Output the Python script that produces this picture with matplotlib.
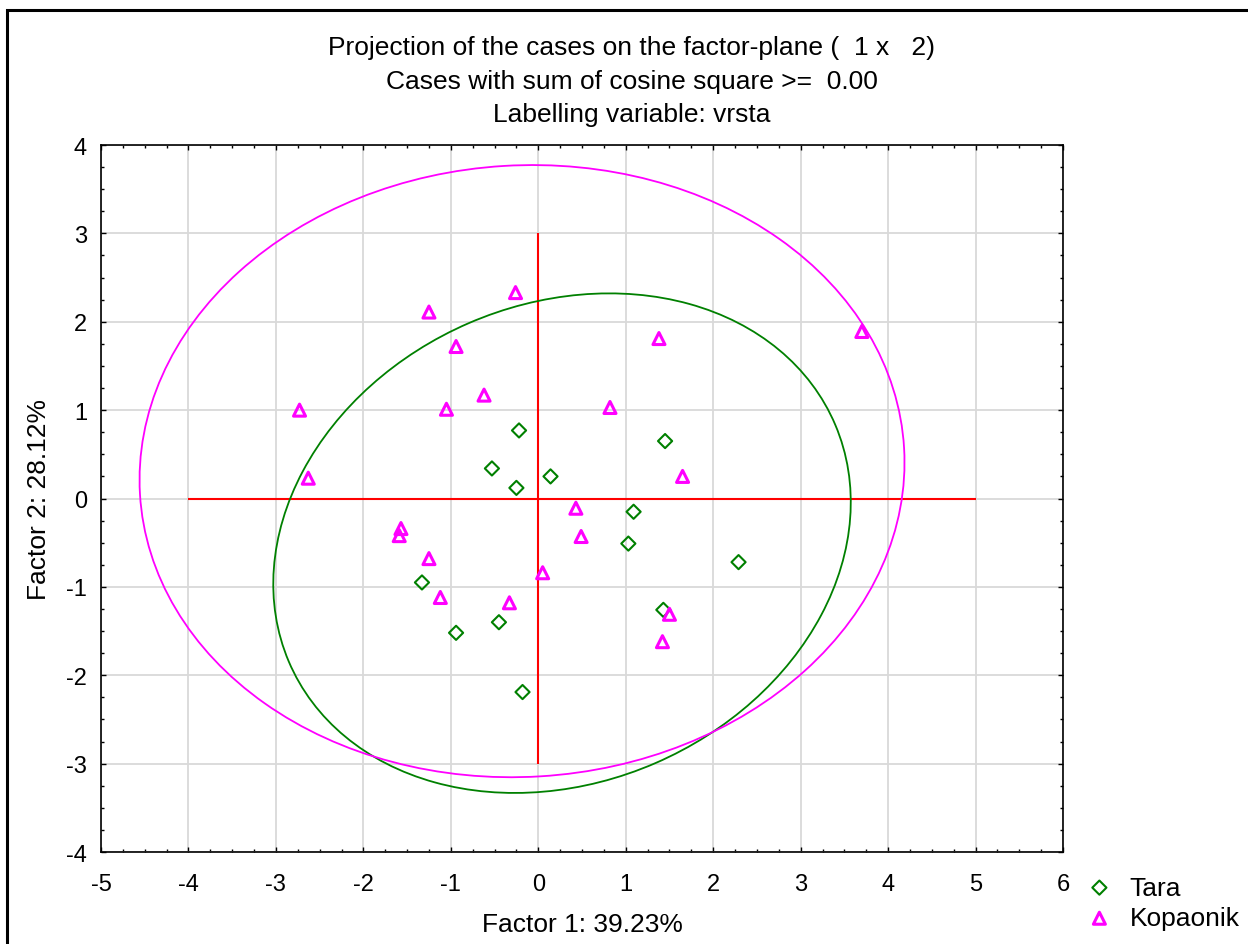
import numpy as np
import matplotlib
matplotlib.use("Agg")
import matplotlib.pyplot as plt
from matplotlib.patches import Ellipse, Rectangle
from matplotlib.ticker import MultipleLocator

plt.rcParams["font.family"] = ["Liberation Sans", "DejaVu Sans"]
plt.rcParams["axes.unicode_minus"] = False

# Factor scores
tara_f1 = [-0.22, -0.53, -0.25, 0.14, 1.45, 1.09, 1.03, 2.29, 1.43, -1.33, -0.94, -0.45, -0.18]
tara_f2 = [0.77, 0.34, 0.12, 0.25, 0.65, -0.15, -0.51, -0.72, -1.26, -0.95, -1.52, -1.40, -2.19]

kop_f1 = [-0.26, -1.25, -0.94, -0.62, -1.05, -2.73, -2.63, 1.38, 0.82, 1.65, 3.70,
          0.43, 0.49, 0.05, -1.57, -1.59, -1.25, -1.12, -0.33, 1.50, 1.42]
kop_f2 = [2.33, 2.11, 1.72, 1.17, 1.01, 1.00, 0.23, 1.81, 1.03, 0.25, 1.89,
          -0.11, -0.43, -0.84, -0.34, -0.42, -0.68, -1.12, -1.18, -1.31, -1.62]

groups = ["Tara", "Kopaonik"]
cross_h = [-4, 5]   # horizontal reference line span at Factor 2 = 0
cross_v = [-3, 3]   # vertical reference line span at Factor 1 = 0

title_lines = [
    "Projection of the cases on the factor-plane (  1 x   2)",
    "Cases with sum of cosine square >=  0.00",
    "Labelling variable: vrsta",
]


def prediction_ellipse(x, y, color, p=0.95):
    # 95% prediction ellipse for a bivariate normal sample
    x = np.asarray(x)
    y = np.asarray(y)
    n = len(x)
    m = n - 2
    f_crit = m / 2 * ((1 - p) ** (-2 / m) - 1)  # F(2, m) quantile
    k = 2 * (n - 1) * (n + 1) / (n * m) * f_crit
    vals, vecs = np.linalg.eigh(np.cov(x, y) * k)
    angle = np.degrees(np.arctan2(vecs[1, 1], vecs[0, 1]))
    return Ellipse((x.mean(), y.mean()), 2 * np.sqrt(vals[1]), 2 * np.sqrt(vals[0]),
                   angle=angle, fill=False, edgecolor=color, lw=1.3, zorder=3)


fig = plt.figure(figsize=(12.48, 9.45), dpi=100)
ax = fig.add_axes([101 / 1248, 1 - 853 / 945, 962 / 1248, 707 / 945])

ax.set_xlim(-5, 6)
ax.set_ylim(-4, 4)
ax.xaxis.set_major_locator(MultipleLocator(1))
ax.yaxis.set_major_locator(MultipleLocator(1))
ax.xaxis.set_minor_locator(MultipleLocator(0.25))
ax.yaxis.set_minor_locator(MultipleLocator(0.25))
ax.grid(True, which="major", color="#d9d9d9", lw=1.3, zorder=0)
ax.set_axisbelow(True)
ax.tick_params(which="both", direction="in", top=True, right=True, width=1)
ax.tick_params(which="major", length=3.5, labelsize=17)
ax.tick_params(axis="x", which="major", pad=15)
ax.tick_params(axis="y", which="major", pad=10)
ax.tick_params(which="minor", length=2.5)
for s in ax.spines.values():
    s.set_linewidth(1.2)

ax.hlines(0, cross_h[0], cross_h[1], color="red", lw=1.5, zorder=2)
ax.vlines(0, cross_v[0], cross_v[1], color="red", lw=1.5, zorder=2)

ax.add_patch(prediction_ellipse(tara_f1, tara_f2, "green"))
ax.add_patch(prediction_ellipse(kop_f1, kop_f2, "magenta"))

ax.scatter(tara_f1, tara_f2, marker="D", s=52, facecolors="none", edgecolors="green",
           linewidths=1.5, zorder=4, label=groups[0])
ax.scatter(kop_f1, kop_f2, marker="^", s=75, facecolors="none", edgecolors="magenta",
           linewidths=2.2, zorder=4, label=groups[1])

ax.set_xlabel("Factor 1: 39.23%", fontsize=19, labelpad=12)
ax.set_ylabel("Factor 2: 28.12%", fontsize=19, labelpad=11)

fig.text(632 / 1248, 1 - 36 / 945, "\n".join(title_lines), ha="center", va="top",
         fontsize=19, linespacing=1.5, transform=fig.transFigure)

fig.legend(loc="upper left", bbox_to_anchor=(1073 / 1248, 1 - 866 / 945), frameon=False,
           fontsize=19, handletextpad=0.55, labelspacing=0.25, borderaxespad=0,
           handlelength=1.2)

fig.patches.append(Rectangle((7 / 1248, -0.05), 1.2, 1 - 11 / 945 + 0.05, fill=False,
                             edgecolor="black", lw=2.2, transform=fig.transFigure))

fig.savefig("out.png", dpi=100)
